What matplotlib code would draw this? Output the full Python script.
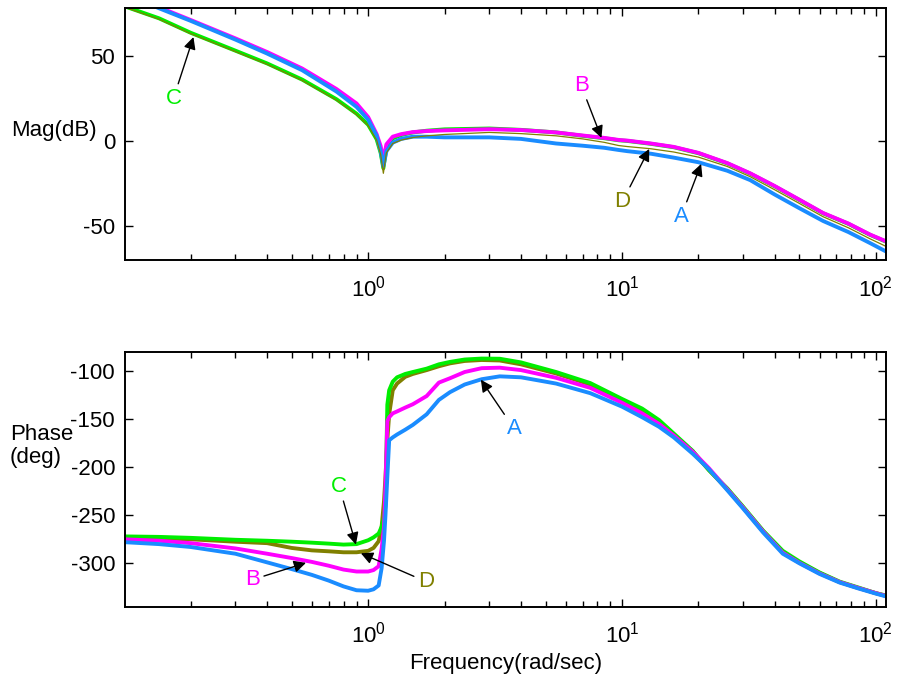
import numpy as np
import matplotlib
matplotlib.use("Agg")
import matplotlib.pyplot as plt
from matplotlib.ticker import LogLocator, NullFormatter

plt.rcParams["font.family"] = ["Liberation Sans", "DejaVu Sans"]
plt.rcParams["mathtext.fontset"] = "custom"
plt.rcParams["mathtext.rm"] = "Liberation Sans"
plt.rcParams["mathtext.it"] = "Liberation Sans:italic"
plt.rcParams["axes.unicode_minus"] = False

# frequency grids (rad/sec)
f_mag = [0.11, 0.15, 0.2, 0.3, 0.4, 0.55, 0.75, 0.9, 1.0, 1.08, 1.12, 1.148, 1.18, 1.25,
         1.35, 1.5, 1.7, 2.0, 3.0, 4.0, 5.5, 7.0, 8.5, 9.7, 10.5, 13, 16, 20, 26, 32, 40,
         50, 62, 78, 95, 110]
f_ph = [0.11, 0.15, 0.2, 0.3, 0.4, 0.5, 0.6, 0.7, 0.8, 0.9, 1.0, 1.05, 1.1, 1.13, 1.155,
        1.17, 1.19, 1.21, 1.25, 1.3, 1.4, 1.5, 1.7, 1.9, 2.1, 2.4, 2.8, 3.3, 4.0, 5.5, 7.5,
        10, 12, 14, 16, 19, 22, 26, 30, 36, 43, 50, 60, 72, 85, 100, 110]

# magnitude (dB)
mag_A = [86.5, 77.9, 70.5, 59.5, 51.3, 41.5, 29, 20, 12.5, 3, -6, -15, -6, -1, 1.2, 2.5,
         2.5, 2.1, 2.1, 1.2, -1.5, -2.8, -4, -5.3, -6, -7.5, -9.8, -12.5, -17.5, -23, -31.5,
         -39.5, -47, -53.5, -60, -65]
mag_B = [87, 78.5, 71, 60.2, 52.2, 42.5, 30.5, 22, 14, 4, -3, -11, -2, 2.5, 4.0, 5.2, 5.8,
         6.2, 6.9, 6.4, 5.0, 3.2, 1.8, 0.6, 0.2, -1.5, -3.5, -7, -13, -19, -26.5, -34.5,
         -42.3, -48.5, -55, -59]
mag_C = [79, 72, 63.5, 53, 45.5, 36, 24.5, 16, 9.5, 1, -7, -16, -4, 1.5, 3.5, 5.0, 6.0,
         6.8, 7.3, 6.5, 5.0, 3.0, 1.6, 0.4, 0.0, -1.7, -3.7, -7.2, -13.2, -19.2, -26.7,
         -34.7, -42.5, -48.7, -55.2, -59.2]
mag_D = [78.5, 71.5, 63, 52.5, 45, 35.5, 24, 15.5, 9, 0.5, -8, -19, -7, -1.5, 0.5, 2.0,
         3.0, 3.8, 5.0, 4.3, 3.0, 1.2, -0.8, -2.7, -3.3, -4.6, -6.5, -9.5, -15, -21, -28.7,
         -36.7, -44.5, -51, -57.5, -62]

# phase (deg)
ph_A = [-278, -280, -283, -290, -299, -306, -312, -318, -324, -328, -328.5, -327, -323,
        -305, -276, -250, -210, -172, -169, -166, -161, -156, -145, -130, -122, -114,
        -108.5, -105.5, -106.5, -113, -123, -137, -148, -158, -169, -186, -202, -224, -243,
        -268, -290, -300, -311, -320, -326, -331.5, -334.5]
ph_B = [-275, -276.5, -279, -284.5, -290, -294.5, -298.5, -302.5, -306.5, -308.5, -308.5,
        -307, -303, -285, -262, -220, -152, -148, -144, -142, -138, -134.5, -126, -112,
        -107.5, -101, -97, -96.5, -99, -107, -117.5, -133, -144, -155, -167, -184, -201,
        -223, -242, -267, -289, -299.5, -310.5, -319.5, -325.5, -331, -334]
ph_C = [-272, -272.5, -273.5, -275.5, -276.5, -277.5, -278.5, -279.5, -280.5, -280, -276,
        -273, -269, -262, -252, -240, -135, -120, -111, -106.5, -103, -101, -97.5, -93,
        -90.5, -88, -87, -87.2, -91, -101, -112.5, -129, -139, -151, -165, -183, -203, -222,
        -241, -266, -287, -298, -309.5, -319, -325, -331, -333.5]
ph_D = [-273.5, -274, -275, -277.5, -279, -284, -286.5, -287.5, -288.5, -288.5, -287, -284,
        -277, -262, -235, -210, -172, -145, -120, -113, -106, -103, -99, -95, -92, -89.5,
        -88.5, -89, -93, -102.5, -114, -130, -140.5, -152, -166, -184, -203, -223, -242,
        -267, -288, -299, -310, -319.5, -325.5, -331, -334]

colors = {"A": "#1a8cff", "B": "#ff00ff", "C": "#00ee00", "D": "#808000"}
FS = 16

fig = plt.figure(figsize=(8.98, 6.74), dpi=100)
ax1 = fig.add_axes([0.139, 0.614, 0.848, 0.374])
ax2 = fig.add_axes([0.139, 0.100, 0.848, 0.378])

# magnitude plot
ax1.semilogx(f_mag, mag_C, color=colors["C"], lw=2.8)
ax1.semilogx(f_mag, mag_B, color=colors["B"], lw=2.8)
ax1.semilogx(f_mag, mag_A, color=colors["A"], lw=2.8)
ax1.semilogx(f_mag, mag_D, color=colors["D"], lw=0.9)
ax1.set_ylim(-70, 78)
ax1.set_yticks([-50, 0, 50])

# phase plot
ax2.semilogx(f_ph, ph_D, color=colors["D"], lw=2.8)
ax2.semilogx(f_ph, ph_C, color=colors["C"], lw=2.8)
ax2.semilogx(f_ph, ph_B, color=colors["B"], lw=2.8)
ax2.semilogx(f_ph, ph_A, color=colors["A"], lw=2.8)
ax2.set_ylim(-345, -80)
ax2.set_yticks([-300, -250, -200, -150, -100])

for ax in (ax1, ax2):
    ax.set_xlim(0.11, 110)
    ax.xaxis.set_major_locator(LogLocator(base=10, numticks=10))
    ax.xaxis.set_minor_locator(LogLocator(base=10, subs=np.arange(2, 10), numticks=20))
    ax.xaxis.set_minor_formatter(NullFormatter())
    ax.tick_params(which="both", direction="in", top=True, right=True, labelsize=FS,
                   width=1.0)
    ax.tick_params(axis="x", pad=11)
    ax.tick_params(axis="y", pad=7)
    ax.tick_params(which="major", length=6)
    ax.tick_params(which="minor", length=4)
    for s in ax.spines.values():
        s.set_linewidth(1.4)

ax1.set_ylabel("Mag(dB)", rotation=0, fontsize=FS, ha="right", va="center")
ax1.yaxis.set_label_coords(-0.037, 0.516)
ax2.set_ylabel("Phase\n(deg)", rotation=0, fontsize=FS, ha="left", va="center",
               multialignment="left", linespacing=1.1)
ax2.yaxis.set_label_coords(-0.151, 0.63)
ax2.set_xlabel("Frequency(rad/sec)", fontsize=FS, labelpad=4)

arrow = dict(arrowstyle="-|>", color="k", lw=1.0, mutation_scale=18, shrinkA=1, shrinkB=0)

# magnitude annotations: label, arrow tip, text position
ax1.annotate("C", xy=(0.205, 61), xytext=(0.171, 25), color=colors["C"], fontsize=FS,
             ha="center", va="center", arrowprops=arrow)
ax1.annotate("B", xy=(8.3, 1.8), xytext=(6.9, 32.7), color=colors["B"], fontsize=FS,
             ha="center", va="center", arrowprops=arrow)
ax1.annotate("D", xy=(12.8, -4.7), xytext=(10.05, -35.5), color=colors["D"], fontsize=FS,
             ha="center", va="center", arrowprops=arrow)
ax1.annotate("A", xy=(20.5, -13.5), xytext=(17.1, -44.3), color=colors["A"], fontsize=FS,
             ha="center", va="center", arrowprops=arrow)

# phase annotations
ax2.annotate("C", xy=(0.895, -280.5), xytext=(0.769, -220), color=colors["C"], fontsize=FS,
             ha="center", va="center", arrowprops=arrow)
ax2.annotate("B", xy=(0.569, -299.5), xytext=(0.35, -317), color=colors["B"], fontsize=FS,
             ha="center", va="center", arrowprops=arrow)
ax2.annotate("D", xy=(0.936, -289.5), xytext=(1.69, -319), color=colors["D"], fontsize=FS,
             ha="center", va="center", arrowprops=arrow)
ax2.annotate("A", xy=(2.78, -109), xytext=(3.76, -160), color=colors["A"], fontsize=FS,
             ha="center", va="center", arrowprops=arrow)

fig.savefig("out.png", dpi=100)
